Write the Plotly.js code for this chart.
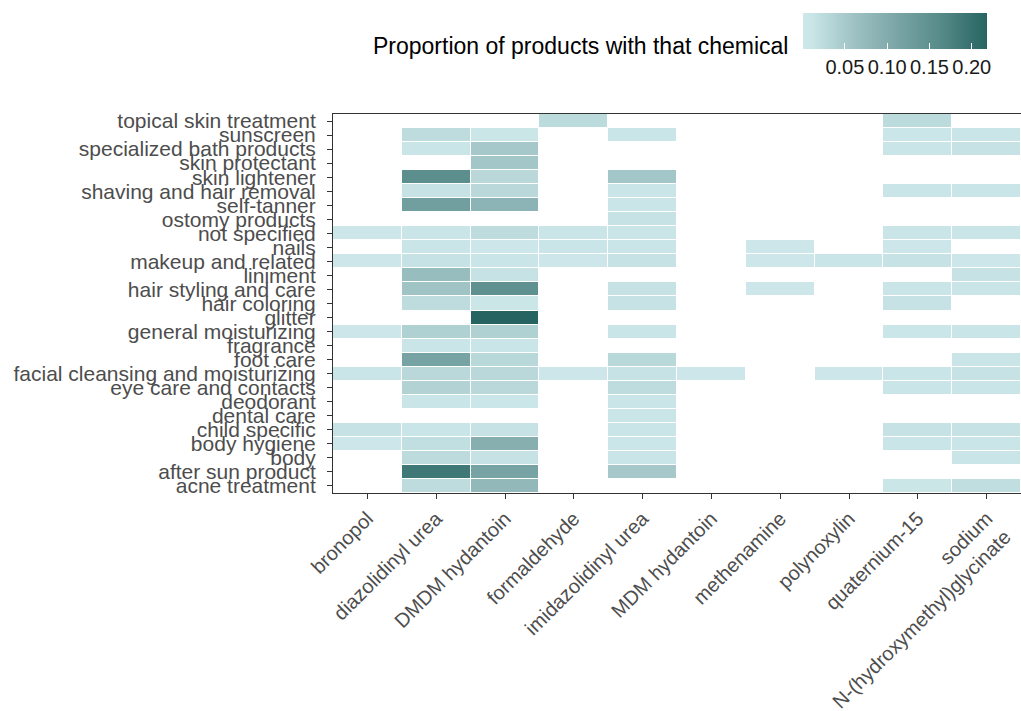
<!DOCTYPE html>
<html>
<head>
<meta charset="utf-8">
<script src="https://cdn.plot.ly/plotly-3.0.1.min.js"></script>
<style>html,body{margin:0;padding:0;background:#fff;}#chart{width:1021px;height:711px;}</style>
</head>
<body>
<div id="chart"></div>
<script>
// Product categories (bottom to top)
const categories = [
  "acne treatment","after sun product","body","body hygiene","child specific",
  "dental care","deodorant","eye care and contacts","facial cleansing and moisturizing",
  "foot care","fragrance","general moisturizing","glitter","hair coloring",
  "hair styling and care","liniment","makeup and related","nails","not specified",
  "ostomy products","self-tanner","shaving and hair removal","skin lightener",
  "skin protectant","specialized bath products","sunscreen","topical skin treatment"
];
// Chemicals (x axis)
const chemicals = [
  "bronopol","diazolidinyl urea","DMDM hydantoin","formaldehyde","imidazolidinyl urea",
  "MDM hydantoin","methenamine","polynoxylin","quaternium-15",
  "sodium<br>N-(hydroxymethyl)glycinate"
];
// Proportion of products with that chemical, one array per product category (column order = chemicals)
const acneTreatment      = [null, 0.024, 0.078, null, null, null, null, null, 0.008, 0.022];
const afterSunProduct    = [null, 0.190, 0.115, null, 0.052, null, null, null, null, null];
const body               = [null, 0.025, 0.015, null, 0.010, null, null, null, null, 0.010];
const bodyHygiene        = [0.004, 0.020, 0.094, null, 0.007, null, null, null, 0.010, 0.010];
const childSpecific      = [0.015, 0.010, 0.015, null, 0.010, null, null, null, 0.015, 0.015];
const dentalCare         = [null, null, null, null, 0.010, null, null, null, null, null];
const deodorant          = [null, 0.010, 0.006, null, 0.010, null, null, null, null, null];
const eyeCare            = [null, 0.038, 0.029, null, 0.024, null, null, null, 0.010, 0.010];
const facialCleansing    = [0.010, 0.029, 0.029, 0.004, 0.015, 0.004, null, 0.004, 0.010, 0.015];
const footCare           = [null, 0.115, 0.030, null, 0.030, null, null, null, null, 0.010];
const fragrance          = [null, 0.010, 0.010, null, null, null, null, null, null, null];
const generalMoisturizing= [0.004, 0.040, 0.040, null, 0.010, null, null, null, 0.005, 0.010];
const glitter            = [null, null, 0.218, null, null, null, null, null, null, null];
const hairColoring       = [null, 0.024, 0.008, null, 0.015, null, null, null, 0.015, null];
const hairStyling        = [null, 0.059, 0.150, null, 0.015, null, 0.004, null, 0.010, 0.010];
const liniment           = [null, 0.070, 0.015, null, null, null, null, null, null, 0.015];
const makeup             = [0.004, 0.015, 0.010, 0.004, 0.015, null, 0.004, 0.010, 0.015, 0.004];
const nails              = [null, 0.010, 0.004, 0.010, 0.010, null, 0.004, null, 0.004, null];
const notSpecified       = [0.004, 0.010, 0.024, 0.010, 0.010, null, null, null, 0.010, 0.010];
const ostomyProducts     = [null, null, null, null, 0.015, null, null, null, null, null];
const selfTanner         = [null, 0.125, 0.087, null, 0.010, null, null, null, null, null];
const shavingHairRemoval = [null, 0.015, 0.029, null, 0.010, null, null, null, 0.010, 0.010];
const skinLightener      = [null, 0.155, 0.029, null, 0.055, null, null, null, null, null];
const skinProtectant     = [null, null, 0.055, null, null, null, null, null, null, null];
const specializedBath    = [null, 0.010, 0.052, null, null, null, null, null, 0.010, 0.015];
const sunscreen          = [null, 0.024, 0.008, null, 0.010, null, null, null, 0.006, 0.010];
const topicalSkin        = [null, null, null, 0.026, null, null, null, null, 0.026, null];

const colorTickVals = [0.05, 0.10, 0.15, 0.20];
const colorTickText = ["0.05", "0.10", "0.15", "0.20"];

const z = [acneTreatment, afterSunProduct, body, bodyHygiene, childSpecific, dentalCare,
  deodorant, eyeCare, facialCleansing, footCare, fragrance, generalMoisturizing, glitter,
  hairColoring, hairStyling, liniment, makeup, nails, notSpecified, ostomyProducts,
  selfTanner, shavingHairRemoval, skinLightener, skinProtectant, specializedBath,
  sunscreen, topicalSkin];

const FONT = "Liberation Sans, Arial, sans-serif";
const W = 1021, H = 711;
const M = { l: 333, r: 0, t: 114, b: 218 };
const PW = W - M.l - M.r, PH = H - M.t - M.b;
const px2x = p => (p - M.l) / PW;           // pixel x -> paper x
const px2y = p => (H - M.b - p) / PH;       // pixel y (from top) -> paper y

const trace = {
  type: "heatmap",
  x: chemicals,
  y: categories,
  z: z,
  zmin: 0.0005,
  zmax: 0.218,
  xgap: 1,
  ygap: 1,
  hoverinfo: "skip",
  colorscale: [
    [0, "#cde7ea"], [0.05, "#c9e5e6"], [0.25, "#a3c6c8"],
    [0.5, "#7ca6a7"], [0.75, "#568a89"], [1, "#266462"]
  ],
  colorbar: {
    orientation: "h",
    x: px2x(803), xanchor: "left",
    y: px2y(13), yanchor: "top",
    lenmode: "pixels", len: 184,
    thicknessmode: "pixels", thickness: 36,
    outlinewidth: 0,
    xpad: 0, ypad: 0,
    tickmode: "array",
    tickvals: colorTickVals,
    ticktext: colorTickText,
    ticks: "inside",
    ticklen: 6,
    tickwidth: 1,
    tickcolor: "#ffffff",
    tickfont: { family: FONT, size: 20, color: "#1a1a1a" }
  }
};

const axisCommon = {
  type: "category",
  showgrid: false,
  zeroline: false,
  showline: true,
  linecolor: "#333333",
  linewidth: 1,
  mirror: true,
  ticks: "outside",
  ticklen: 5,
  tickwidth: 1,
  tickcolor: "#333333",
  automargin: false,
  fixedrange: true
};

const layout = {
  width: W,
  height: H,
  margin: M,
  paper_bgcolor: "#ffffff",
  plot_bgcolor: "#ffffff",
  font: { family: FONT },
  xaxis: Object.assign({}, axisCommon, {
    tickangle: -45, tickmode: "array", tickvals: chemicals, ticktext: chemicals,
    tickfont: { family: FONT, size: 20, color: "#4d4d4d" }
  }),
  yaxis: Object.assign({}, axisCommon, {
    tickangle: 0, tickmode: "array", tickvals: categories, ticktext: categories,
    ticklabelstandoff: 7,
    tickfont: { family: FONT, size: 21, color: "#4d4d4d" }
  }),
  annotations: [{
    xref: "paper", yref: "paper",
    x: px2x(790), xanchor: "right",
    y: px2y(46), yanchor: "middle",
    text: "Proportion of products with that chemical",
    showarrow: false,
    font: { family: FONT, size: 23, color: "#000000" }
  }]
};

Plotly.newPlot("chart", [trace], layout, { displayModeBar: false, staticPlot: true });
</script>
</body>
</html>
